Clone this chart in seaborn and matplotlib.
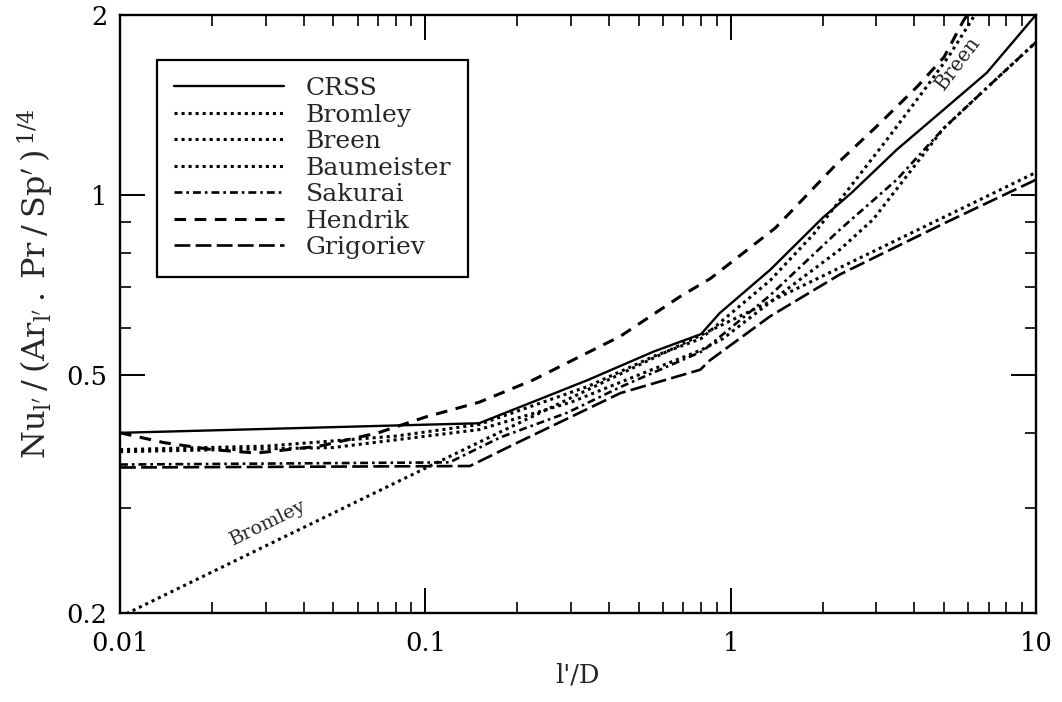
import matplotlib
matplotlib.use("Agg")
import matplotlib.pyplot as plt
import pandas as pd
import seaborn as sns
from matplotlib.ticker import FixedLocator, FixedFormatter, LogLocator, NullFormatter

# Normalised Nusselt number Nu_l'/(Ar_l'.Pr/Sp')^(1/4) against l'/D for each correlation
crss_x = [0.01, 0.15, 0.34, 0.56, 0.80, 0.92, 1.35, 2.0, 2.5, 3.5, 5.0, 6.9, 10.0]
crss_y = [0.400, 0.415, 0.490, 0.547, 0.585, 0.634, 0.750, 0.915, 1.01, 1.19, 1.39, 1.60, 2.00]

bromley_x = [0.01, 0.1, 1.0, 10.0]
bromley_y = [0.197, 0.349, 0.616, 1.09]

breen_x = [0.01, 0.03, 0.08, 0.15, 0.34, 0.56, 0.80, 1.35, 1.87, 2.46, 3.3, 4.4, 5.2, 6.08, 6.3]
breen_y = [0.375, 0.380, 0.395, 0.413, 0.478, 0.537, 0.575, 0.720, 0.860, 1.03, 1.25, 1.52, 1.71, 1.94, 2.0]

baumeister_x = [0.01, 0.05, 0.15, 0.3, 0.5, 0.8, 0.944, 1.5, 2.28, 2.93, 3.96, 4.97, 7.0, 10.0]
baumeister_y = [0.372, 0.378, 0.405, 0.45, 0.50, 0.55, 0.575, 0.69, 0.81, 0.91, 1.11, 1.29, 1.52, 1.80]

sakurai_x = [0.01, 0.12, 0.176, 0.291, 0.435, 0.81, 1.35, 2.28, 3.5, 4.97, 7.0, 10.0]
sakurai_y = [0.354, 0.357, 0.393, 0.432, 0.477, 0.548, 0.680, 0.875, 1.06, 1.29, 1.52, 1.80]

hendrik_x = [0.01, 0.014, 0.02, 0.028, 0.045, 0.07, 0.1, 0.15, 0.225, 0.435, 0.68, 0.86,
             1.4, 2.2, 3.0, 4.1, 5.0, 5.8, 6.1]
hendrik_y = [0.400, 0.385, 0.375, 0.370, 0.380, 0.400, 0.425, 0.450, 0.490, 0.580, 0.675, 0.725,
             0.880, 1.12, 1.30, 1.52, 1.70, 1.96, 2.03]

grigoriev_x = [0.01, 0.14, 0.2, 0.435, 0.795, 0.856, 1.35, 2.28, 5.0, 10.0]
grigoriev_y = [0.350, 0.352, 0.385, 0.466, 0.510, 0.529, 0.627, 0.736, 0.896, 1.06]

x_ticks = [0.01, 0.1, 1, 10]
x_tick_labels = ["0.01", "0.1", "1", "10"]
y_ticks = [0.2, 0.5, 1, 2]
y_tick_labels = ["0.2", "0.5", "1", "2"]
y_minor_ticks = [0.3, 0.4, 0.6, 0.7, 0.8, 0.9]

series = [
    ("CRSS", crss_x, crss_y, "-", 1.7),
    ("Bromley", bromley_x, bromley_y, (0, (1.0, 1.3)), 2.2),
    ("Breen", breen_x, breen_y, (0, (1.0, 1.3)), 2.2),
    ("Baumeister", baumeister_x, baumeister_y, (0, (1.0, 1.3)), 2.2),
    ("Sakurai", sakurai_x, sakurai_y, (0, (3.0, 1.5, 1.0, 1.5)), 1.9),
    ("Hendrik", hendrik_x, hendrik_y, (0, (3.8, 2.8)), 2.2),
    ("Grigoriev", grigoriev_x, grigoriev_y, (0, (6.0, 2.0)), 1.9),
]

sns.set_style("ticks")
plt.rcParams["font.family"] = ["DejaVu Serif"]
plt.rcParams["mathtext.fontset"] = "dejavuserif"

fig = plt.figure(figsize=(10.62, 7.02), dpi=100)
ax = fig.add_axes([0.113, 0.127, 0.8625, 0.8519])

for name, xs, ys, ls, lw in series:
    df = pd.DataFrame({"x": xs, "y": ys})
    sns.lineplot(data=df, x="x", y="y", ax=ax, color="black", linestyle=ls,
                 linewidth=lw, label=name, estimator=None, sort=False)

ax.set_xscale("log")
ax.set_yscale("log")
ax.set_xlim(0.01, 10)
ax.set_ylim(0.2, 2)

ax.xaxis.set_major_locator(FixedLocator(x_ticks))
ax.xaxis.set_major_formatter(FixedFormatter(x_tick_labels))
ax.xaxis.set_minor_locator(LogLocator(base=10, subs=range(2, 10)))
ax.xaxis.set_minor_formatter(NullFormatter())
ax.yaxis.set_major_locator(FixedLocator(y_ticks))
ax.yaxis.set_major_formatter(FixedFormatter(y_tick_labels))
ax.yaxis.set_minor_locator(FixedLocator(y_minor_ticks))
ax.yaxis.set_minor_formatter(NullFormatter())

ax.tick_params(which="both", direction="in", top=True, right=True, colors="black")
ax.tick_params(which="major", length=18, width=1.4, labelsize=18.5)
ax.tick_params(axis="x", which="major", pad=13)
ax.tick_params(axis="y", which="major", pad=9)
ax.tick_params(which="minor", length=8, width=1.2)
for sp in ax.spines.values():
    sp.set_linewidth(1.7)
    sp.set_color("black")

ax.set_xlabel("l'/D", fontsize=18.5, labelpad=5)
ax.set_ylabel(r"$\mathrm{Nu}_{\mathrm{l}'}\:/\:(\mathrm{Ar}_{\mathrm{l}'}\:.\:\mathrm{Pr}\:/\:"
              r"\mathrm{Sp}'\:)^{\,1/4}$",
              fontsize=23)
ax.yaxis.set_label_coords(-0.070, 0.55)

ax.text(0.0305, 0.283, "Bromley", rotation=26, fontsize=14, ha="center", va="center",
        rotation_mode="anchor")
ax.text(5.55, 1.66, "Breen", rotation=53, fontsize=14.5, ha="center", va="center",
        rotation_mode="anchor")

leg = ax.legend(loc="upper left", bbox_to_anchor=(0.040, 0.925), fontsize=18,
                frameon=True, fancybox=False, edgecolor="black", framealpha=1,
                handlelength=4.4, handletextpad=0.85, labelspacing=0.14,
                borderpad=0.7, borderaxespad=0)
leg.get_frame().set_linewidth(1.6)

fig.savefig("out.png", dpi=100)
